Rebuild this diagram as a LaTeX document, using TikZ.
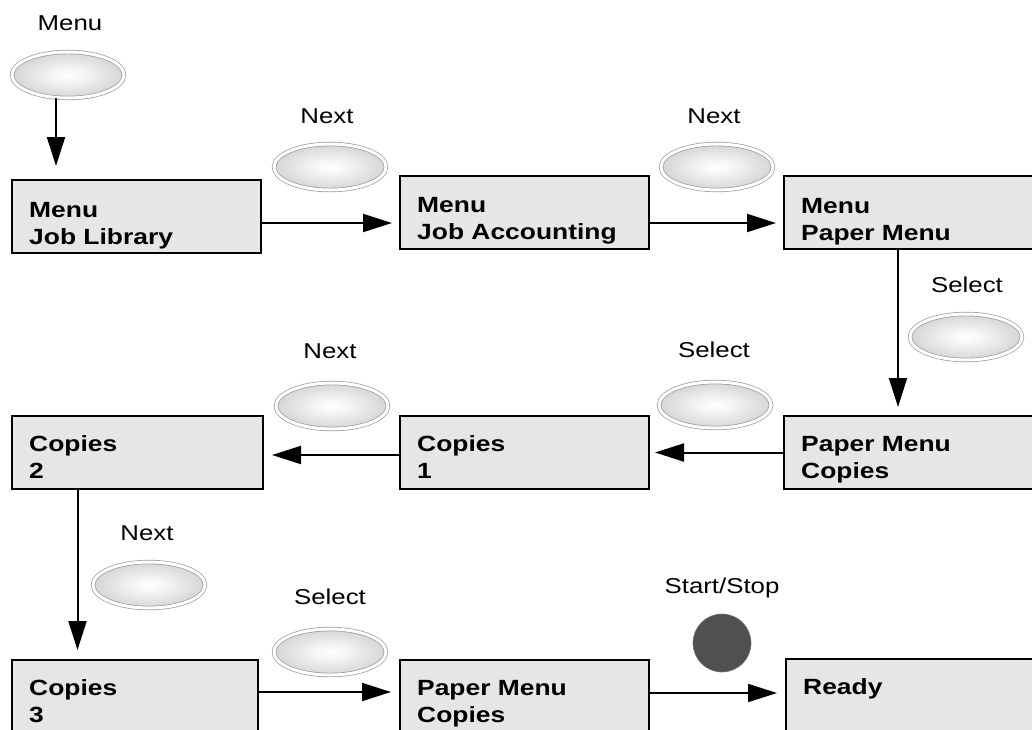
\documentclass[tikz,border=0pt]{standalone}
\usepackage{fontspec}
\setmainfont{Liberation Sans}[FakeStretch=1.2]
\usetikzlibrary{arrows.meta,shapes.geometric}
\definecolor{boxgray}{HTML}{E6E6E6}
\definecolor{btnline}{HTML}{9A9A9A}
\definecolor{stopgray}{HTML}{505050}
\pgfdeclareradialshading{btnshade}{\pgfpoint{0bp}{0bp}}{color(0bp)=(white); color(6bp)=(white!97!black); color(44bp)=(black!30); color(50bp)=(black!32)}
\tikzset{
  box/.style={draw=black, line width=2.4pt, fill=boxgray, minimum width=249pt, minimum height=73pt, anchor=north west, inner sep=0pt, outer sep=0pt},
  boxtext/.style={font=\fontsize{22}{27}\selectfont\bfseries, align=left, anchor=base west, inner sep=0pt},
  lbl/.style={font=\fontsize{21.5}{25}\selectfont, anchor=base, inner sep=0pt},
  btn/.style={ellipse, minimum width=112pt, minimum height=46pt, draw=btnline, line width=0.7pt, double=white, double distance=3pt, shading=btnshade, inner sep=0pt},
  arr/.style={line width=2pt, -{Triangle[length=29pt,width=18pt]}},
}
\begin{document}
\begin{tikzpicture}[x=1pt,y=-1pt]
\useasboundingbox (0,0) rectangle (1032,729);
\clip (0,0) rectangle (1032,729);

% boxes
\node[box] (b1) at (12,180) {};
\node[box] (b2) at (400,176) {};
\node[box] (b3) at (784,176) {};
\node[box] (c1) at (784,416) {};
\node[box] (c2) at (400,416) {};
\node[box, minimum width=251pt] (c3) at (12,416) {};
\node[box, minimum width=246pt] (d1) at (12,660) {};
\node[box] (d2) at (400,660) {};
\node[box] (d3) at (786,659) {};

% box texts (base = baseline of last line)
\node[boxtext] (t1) at (29,244) {Menu\\Job Library};
\node[boxtext] (t2) at (417,239) {Menu\\Job Accounting};
\node[boxtext] (t3) at (801,240) {Menu\\Paper Menu};
\node[boxtext] (t4) at (801,478) {Paper Menu\\Copies};
\node[boxtext] (t5) at (417,478) {Copies\\1};
\node[boxtext] (t6) at (29,478) {Copies\\2};
\node[boxtext] (t7) at (29,722) {Copies\\3};
\node[boxtext] (t8) at (417,722) {Paper Menu\\Copies};
\node[boxtext] (t9) at (803,694) {Ready};

% buttons
\node[btn] (m) at (68,75) {};
\node[btn] (n1) at (330,167) {};
\node[btn] (n2) at (717,167) {};
\node[btn] (s1) at (966,337) {};
\node[btn] (s2) at (715,405) {};
\node[btn] (n3) at (332,406) {};
\node[btn] (n4) at (149,585) {};
\node[btn] (s3) at (330,652) {};
\node[circle, minimum size=58pt, fill=stopgray, draw=stopgray!80!white, line width=0.6pt, inner sep=0pt] (ss) at (722,643) {};

% labels
\node[lbl] (lm) at (70,30) {Menu};
\node[lbl] (ln1) at (327,123) {Next};
\node[lbl] (ln2) at (714,123) {Next};
\node[lbl] (ls1) at (967,292) {Select};
\node[lbl] (ls2) at (714,357) {Select};
\node[lbl] (ln3) at (330,358) {Next};
\node[lbl] (ln4) at (147,540) {Next};
\node[lbl] (ls3) at (330,604) {Select};
\node[lbl] (lss) at (722,593) {Start/Stop};

% connectors
\draw[arr, shorten >=14pt] ([xshift=-12pt]m.south) -- ([xshift=-12pt]m.south |- b1.north);
\draw[arr, shorten >=8pt] ([yshift=-6.5pt]b1.east) -- ([yshift=-6.5pt]b1.east -| b2.west);
\draw[arr, shorten >=8pt] ([yshift=-10.5pt]b2.east) -- ([yshift=-10.5pt]b2.east -| b3.west);
\draw[arr, shorten >=9pt] ([xshift=-10.5pt]b3.south) -- ([xshift=-10.5pt]b3.south |- c1.north);
\draw[arr, shorten >=6pt] (c1.west) -- (c1.west -| c2.east);
\draw[arr, shorten >=9pt] ([yshift=-2.5pt]c2.west) -- ([yshift=-2.5pt]c2.west -| c3.east);
\draw[arr, shorten >=10pt] ([xshift=-60pt]c3.south) -- ([xshift=-60pt]c3.south |- d1.north);
\draw[arr, shorten >=9pt] ([yshift=4.5pt]d1.east) -- ([yshift=4.5pt]d1.east -| d2.west);
\draw[arr, shorten >=9pt] ([yshift=3.5pt]d2.east) -- ([yshift=3.5pt]d2.east -| d3.west);
\end{tikzpicture}
\end{document}
